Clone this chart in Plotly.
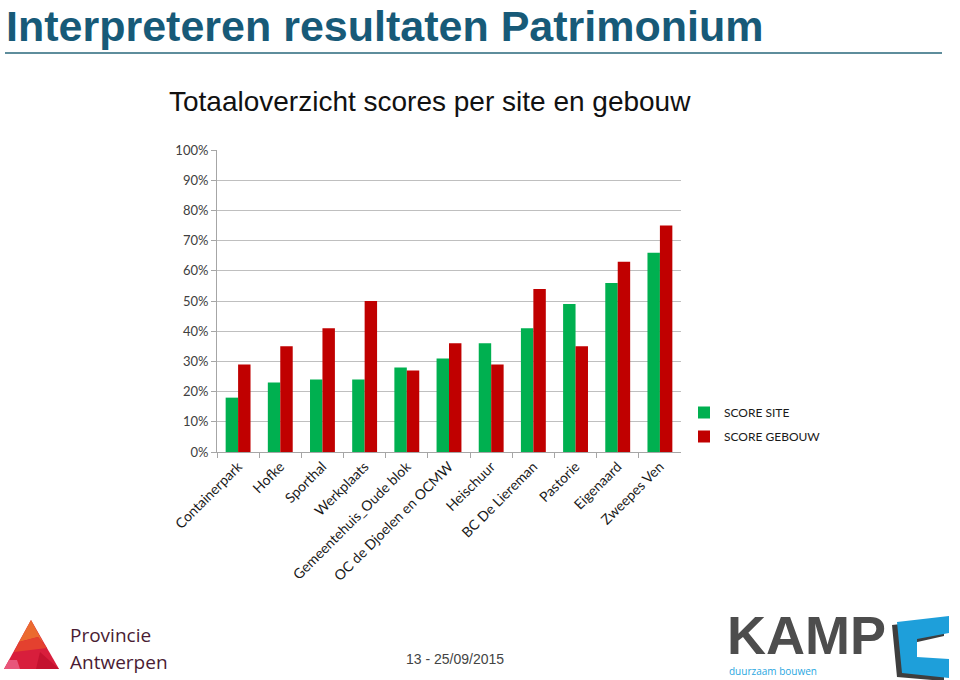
import plotly.graph_objects as go

W, H = 960, 680

categories = ["Containerpark", "Hofke", "Sporthal", "Werkplaats", "Gemeentehuis_Oude blok",
              "OC de Djoelen en OCMW", "Heischuur", "BC De Liereman", "Pastorie",
              "Eigenaard", "Zweepes Ven"]
score_site = [18, 23, 24, 24, 28, 31, 36, 41, 49, 56, 66]
score_gebouw = [29, 35, 41, 50, 27, 36, 29, 54, 35, 63, 75]
y_ticks = [0, 10, 20, 30, 40, 50, 60, 70, 80, 90, 100]
y_ticktext = [f"{v}%" for v in y_ticks]

def px(x):
    return x / W

def py(y):
    return 1 - y / H

def path(points):
    return "M" + " L".join(f"{px(x):.5f},{py(y):.5f}" for x, y in points) + " Z"

fig = go.Figure()
fig.add_trace(go.Bar(name="SCORE SITE", x=categories, y=score_site,
                     marker=dict(color="#00B050", line=dict(width=0)), legendgroup="a"))
fig.add_trace(go.Bar(name="SCORE GEBOUW", x=categories, y=score_gebouw,
                     marker=dict(color="#C00000", line=dict(width=0)), legendgroup="b"))

axis_font = dict(family="Lato, Open Sans, sans-serif", size=13, color="#404040")

fig.update_layout(
    width=W, height=H, autosize=False,
    margin=dict(l=0, r=0, t=0, b=0, pad=0, autoexpand=False),
    paper_bgcolor="white", plot_bgcolor="white",
    barmode="group", bargap=0.41, bargroupgap=0,
    xaxis=dict(domain=[px(217), px(681)], type="category", automargin=False,
               tickangle=-45, tickfont=dict(family="Lato, Open Sans, sans-serif", size=14, color="#1a1a1a"),
               ticks="outside", tickson="boundaries", ticklen=5, tickcolor="#A6A6A6",
               showline=True, linecolor="#A6A6A6", linewidth=1, showgrid=False),
    yaxis=dict(domain=[py(452), py(150)], range=[0, 100], automargin=False,
               tickmode="array", tickvals=y_ticks, ticktext=y_ticktext, tickfont=axis_font,
               ticks="outside", ticklen=5, tickcolor="#A6A6A6",
               showline=True, linecolor="#A6A6A6", linewidth=1,
               showgrid=True, gridcolor="#BFBFBF", gridwidth=1, zeroline=False),
    legend=dict(x=px(684), y=py(398), xanchor="left", yanchor="top",
                font=dict(family="Lato, Open Sans, sans-serif", size=12, color="#1a1a1a"),
                traceorder="grouped", tracegroupgap=5, bgcolor="rgba(0,0,0,0)"),
    showlegend=True,
)

annotations = [
    dict(text="<b>Interpreteren resultaten Patrimonium</b>", x=px(4), y=1,
         xanchor="left", yanchor="top",
         font=dict(family="Liberation Sans, Arial, sans-serif", size=43, color="#175A78")),
    dict(text="Totaaloverzicht scores per site en gebouw", x=px(167), y=py(101),
         xanchor="left", yanchor="middle",
         font=dict(family="Liberation Sans, Arial, sans-serif", size=28, color="#111111")),
    dict(text="13 - 25/09/2015", x=px(455), y=py(659), xanchor="center", yanchor="middle",
         font=dict(family="Liberation Sans, Arial, sans-serif", size=14, color="#444444")),
    dict(text='<span style="font-size:19px">Provincie</span><br>'
              '<span style="font-size:19px">Antwerpen</span>',
         x=px(68), y=py(648), xanchor="left", yanchor="middle", align="left",
         font=dict(family="Open Sans, sans-serif", size=21, color="#4A1C33")),
    dict(text="<b>KAMP</b>", x=px(725), y=py(667), xanchor="left", yanchor="bottom",
         font=dict(family="Liberation Sans, Arial, sans-serif", size=54, color="#4D4D4D",
                   weight=900)),
    dict(text="duurzaam bouwen", x=px(727), y=0, xanchor="left", yanchor="bottom",
         font=dict(family="Open Sans, sans-serif", size=10, color="#2AA7DF")),
]
for a in annotations:
    a.update(xref="paper", yref="paper", showarrow=False)
fig.update_layout(annotations=annotations)

shapes = [
    dict(type="line", x0=px(5), x1=px(942), y0=py(53), y1=py(53),
         line=dict(color="#5E8D9C", width=2)),
    # Provincie Antwerpen triangle
    dict(type="path", path=path([(31, 620), (4, 669), (59, 669)]),
         fillcolor="#D81E3C", line=dict(width=0)),
    dict(type="path", path=path([(31, 620), (19, 642), (38, 637), (44, 644)]),
         fillcolor="#EB6A2F", line=dict(width=0)),
    dict(type="path", path=path([(19, 642), (38, 637), (44, 644), (47, 648), (14, 652)]),
         fillcolor="#E4412F", line=dict(width=0)),
    dict(type="path", path=path([(9, 660), (4, 669), (20, 669), (17, 660)]),
         fillcolor="#E8557A", line=dict(width=0)),
    dict(type="path", path=path([(40, 652), (59, 669), (36, 669)]),
         fillcolor="#C4122F", line=dict(width=0)),
    # KAMP C logo: shadow then face
    dict(type="path", path=path([(892, 625), (944, 619), (944, 636), (913, 643), (913, 661),
                                 (944, 662), (944, 681), (897, 677)]),
         fillcolor="#3E3E3E", line=dict(width=0)),
    dict(type="path", path=path([(897, 622), (949, 616), (949, 633), (917, 639), (917, 657),
                                 (949, 659), (949, 678), (902, 673)]),
         fillcolor="#1E9FDA", line=dict(width=0)),
]
for s in shapes:
    s.update(xref="paper", yref="paper", layer="above")
fig.update_layout(shapes=shapes)

fig.write_html("out.html")
